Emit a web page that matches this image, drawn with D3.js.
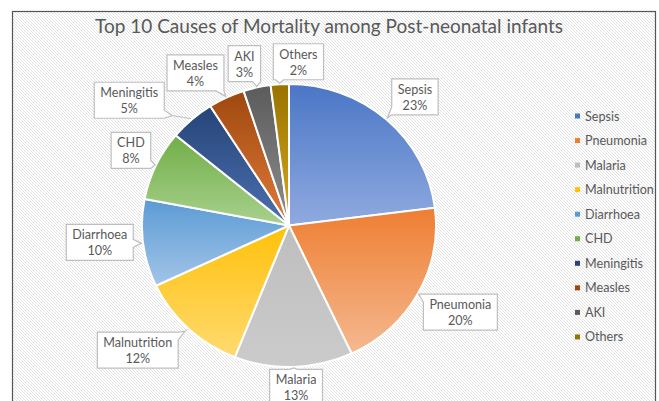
<!DOCTYPE html>
<html>
<head>
<meta charset="utf-8">
<script src="https://cdn.jsdelivr.net/npm/d3@7"></script>
<style>
  html, body { margin: 0; padding: 0; background: #fff; }
  svg { display: block; }
  text { font-family: "Lato", "Open Sans", sans-serif; }
</style>
</head>
<body>
<svg id="chart" width="659" height="401"></svg>
<script>
// ---- data ----
const title = "Top 10 Causes of Mortality among Post-neonatal infants";
const categories = ["Sepsis", "Pneumonia", "Malaria", "Malnutrition", "Diarrhoea", "CHD", "Meningitis", "Measles", "AKI", "Others"];
const values = [23, 20, 13, 12, 10, 8, 5, 4, 3, 2];
const colorsTop = ["#4A76C6", "#EE7E32", "#BEBEBE", "#FFC10A", "#5B9BD5", "#71AE48", "#264478", "#9E480E", "#5B5B5B", "#997300"];
const colorsBottom = ["#90AADF", "#F5B990", "#CBCBCB", "#FFDA70", "#A3C5E8", "#A9D18E", "#4C70B0", "#E27B3B", "#8E8E8E", "#D7A920"];

// ---- layout (not data) ----
const W = 659, H = 401;
const cx = 289, cy = 225.5, R = 147, ky = 141.5 / 147;
// label placement: angle tweak (deg) and distance (px) from pie centre
const labelAngleTweak = [3, -2, -0.7, 7.3, 2.1, 0.2, -10.5, -6.3, -2.8, 6.9];
const labelDistance = [180, 192, 162, 196, 190, 175, 203, 179, 168, 164];

const svg = d3.select("#chart");
const defs = svg.append("defs");

// hatched background
const pat = defs.append("pattern").attr("id", "hatch")
  .attr("patternUnits", "userSpaceOnUse").attr("width", 3).attr("height", 3);
pat.append("rect").attr("width", 3).attr("height", 3).attr("fill", "#ffffff");
pat.append("path").attr("d", "M-1,-1 L4,4 M2,-1 L4,1 M-1,2 L1,4")
  .attr("stroke", "#e3e3e3").attr("stroke-width", 1);

svg.append("rect").attr("width", W).attr("height", H).attr("fill", "#fff");
svg.append("rect").attr("x", 12.5).attr("y", 11.5).attr("width", 643).attr("height", 420)
  .attr("fill", "url(#hatch)").attr("stroke", "#555").attr("stroke-width", 1.2);

// title
const titleText = svg.append("text")
  .attr("x", 329).attr("y", 33)
  .attr("text-anchor", "middle")
  .attr("font-size", 18.5)
  .attr("fill", "#595959")
  .text(title);
const tw = titleText.node().getComputedTextLength();
if (tw > 0) titleText.attr("textLength", 468).attr("lengthAdjust", "spacingAndGlyphs");

// gradients
categories.forEach((c, i) => {
  const g = defs.append("linearGradient").attr("id", "grad" + i)
    .attr("x1", 0).attr("y1", 0).attr("x2", 0).attr("y2", 1);
  g.append("stop").attr("offset", "0%").attr("stop-color", colorsTop[i]);
  g.append("stop").attr("offset", "100%").attr("stop-color", colorsBottom[i]);
});

const pie = d3.pie().sort(null).value(d => d)(values);
const arc = d3.arc().innerRadius(0).outerRadius(R);

const pieG = svg.append("g").attr("transform", `translate(${cx},${cy}) scale(1,${ky})`);
pieG.selectAll("path.slice").data(pie).join("path")
  .attr("class", "slice")
  .attr("d", arc)
  .attr("fill", (d, i) => `url(#grad${i})`)
  .attr("stroke", "#fff")
  .attr("stroke-width", 2)
  .attr("vector-effect", "non-scaling-stroke");

// data labels (callouts)
const labelG = svg.append("g");
const fs = 12.6;
pie.forEach((d, i) => {
  const a = (d.startAngle + d.endAngle) / 2;
  const A = [cx + (R + 1) * Math.sin(a), cy - (R + 1) * ky * Math.cos(a)];
  const la = a + labelAngleTweak[i] * Math.PI / 180;
  const C = [cx + labelDistance[i] * Math.sin(la), cy - labelDistance[i] * Math.cos(la)];

  const g = labelG.append("g");
  const t1 = g.append("text").attr("text-anchor", "middle").attr("font-size", fs).attr("fill", "#595959")
    .attr("x", C[0]).attr("y", C[1] - 3).text(categories[i]);
  const t2 = g.append("text").attr("text-anchor", "middle").attr("font-size", fs).attr("fill", "#595959")
    .attr("x", C[0]).attr("y", C[1] + 13).text(values[i] + "%");
  const w = Math.max(t1.node().getComputedTextLength(), t2.node().getComputedTextLength()) + 12;
  const h = 36;
  const x0 = C[0] - w / 2, x1 = C[0] + w / 2, y0 = C[1] - h / 2, y1 = C[1] + h / 2;

  // nearest perimeter point to anchor
  const px = Math.max(x0, Math.min(x1, A[0])), py = Math.max(y0, Math.min(y1, A[1]));
  const dxo = A[0] < x0 ? x0 - A[0] : (A[0] > x1 ? A[0] - x1 : 0);
  const dyo = A[1] < y0 ? y0 - A[1] : (A[1] > y1 ? A[1] - y1 : 0);
  let edge;
  if (dxo >= dyo) edge = A[0] < x0 ? "left" : "right";
  else edge = A[1] < y0 ? "top" : "bottom";

  const half = 4;
  let b1, b2;
  const clampv = (v, lo, hi) => Math.max(lo, Math.min(hi, v));
  if (edge === "top") { const x = clampv(px, x0 + half, x1 - half); b1 = [x - half, y0]; b2 = [x + half, y0]; }
  if (edge === "bottom") { const x = clampv(px, x0 + half, x1 - half); b1 = [x + half, y1]; b2 = [x - half, y1]; }
  if (edge === "right") { const y = clampv(py, y0 + half, y1 - half); b1 = [x1, y - half]; b2 = [x1, y + half]; }
  if (edge === "left") { const y = clampv(py, y0 + half, y1 - half); b1 = [x0, y + half]; b2 = [x0, y - half]; }
  const mid = [(b1[0] + b2[0]) / 2, (b1[1] + b2[1]) / 2];
  const vx = A[0] - mid[0], vy = A[1] - mid[1];
  const dist = Math.hypot(vx, vy);
  const tl = Math.min(8, dist);
  const T = dist > 0 ? [mid[0] + vx / dist * tl, mid[1] + vy / dist * tl] : mid;

  const pts = [];
  pts.push([x0, y0]);
  if (edge === "top") pts.push(b1, T, b2);
  pts.push([x1, y0]);
  if (edge === "right") pts.push(b1, T, b2);
  pts.push([x1, y1]);
  if (edge === "bottom") pts.push(b1, T, b2);
  pts.push([x0, y1]);
  if (edge === "left") pts.push(b1, T, b2);

  if (dist > tl + 0.5) {
    g.insert("line", ":first-child")
      .attr("x1", T[0]).attr("y1", T[1]).attr("x2", A[0]).attr("y2", A[1])
      .attr("stroke", "#bfbfbf").attr("stroke-width", 1);
  }
  g.insert("path", "text")
    .attr("d", d3.line()(pts) + "Z")
    .attr("fill", "#fff").attr("stroke", "#bfbfbf").attr("stroke-width", 1.2);
});

// legend
const legG = svg.append("g");
const legY0 = 116, legStep = 24.55;
categories.forEach((c, i) => {
  const y = legY0 + i * legStep;
  legG.append("rect").attr("x", 575).attr("y", y - 2.5).attr("width", 5).attr("height", 5)
    .attr("fill", colorsTop[i]);
  legG.append("text").attr("x", 585).attr("y", y + 4.5).attr("font-size", 12.6)
    .attr("fill", "#595959").text(c);
});
</script>
</body>
</html>
